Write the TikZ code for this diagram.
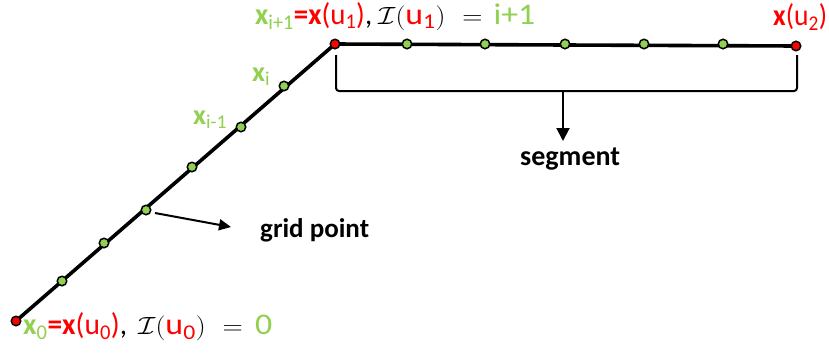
\documentclass[tikz,border=0pt]{standalone}
\usepackage{fontspec}
\usepackage{graphicx}
\setmainfont{Carlito}
\usetikzlibrary{arrows.meta,backgrounds}
\definecolor{lgreen}{HTML}{92D050}
\definecolor{pred}{HTML}{FF0000}
\newcommand\gx[1]{{\color{lgreen}\bfseries x}{\color{lgreen}\textsubscript{#1}}}
\newcommand\ru[1]{\mbox{\color{pred}u\textsubscript{#1}}}
\newcommand\wbox[2]{\resizebox{#1}{\height}{#2}}
\begin{document}
\begin{tikzpicture}[x=1pt,y=-1pt,
  dotbase/.style={circle,draw=black,line width=1.5pt,minimum size=9.5pt,inner sep=0pt},
  gdot/.style={dotbase,fill=lgreen},
  rdot/.style={dotbase,fill=pred},
  mainline/.style={line width=3.6pt,line join=round},
  thinline/.style={line width=2pt},
  lbl/.style={inner sep=0pt,anchor=base west,font=\fontsize{30}{34}\selectfont},
  slbl/.style={inner sep=0pt,anchor=base west,font=\fontsize{28}{32}\selectfont},
  blbl/.style={inner sep=0pt,anchor=base west,font=\fontsize{27}{30}\selectfont\bfseries}]
\useasboundingbox (0,0) rectangle (829,354);
% points
\node[rdot] (p0) at (16,321) {};
\node[gdot] (g1) at (62,281) {};
\node[gdot] (g2) at (104,243) {};
\node[gdot] (g3) at (146,210) {};
\node[gdot] (g4) at (192,167) {};
\node[gdot] (g5) at (241,127) {};
\node[gdot] (g6) at (284,86) {};
\node[rdot] (p1) at (335,44) {};
\node[gdot] (h1) at (407,44) {};
\node[gdot] (h2) at (485,44) {};
\node[gdot] (h3) at (565,44) {};
\node[gdot] (h4) at (644,44) {};
\node[gdot] (h5) at (723,44) {};
\node[rdot] (p2) at (796,46) {};
\begin{scope}[on background layer]
\fill[white] (0,0) rectangle (829,354);
\draw[mainline] (p0.center) -- (p1.center) -- (p2.center);
\end{scope}
% bracket
\coordinate (b1) at (336,55);
\coordinate (b2) at (336,91);
\coordinate (b3) at (797,91);
\coordinate (b4) at (797,55);
\coordinate (bm) at (563,91);
\draw[thinline,rounded corners=3pt] (b1) -- (b2) -- (b3) -- (b4);
% labels
\node[blbl,font=\fontsize{28}{30}\selectfont\bfseries] (seg) at (520,165) {segment};
\node[blbl] (grid) at (260,237) {grid point};
\draw[thinline,-{Triangle[width=13pt,length=13pt]}] (bm) -- (563,141) coordinate (segtip);
\coordinate (ga) at (155,213);
\coordinate (gb) at (231,227);
\draw[thinline,-{Triangle[width=11pt,length=12pt]}] (ga) -- (gb);
\node[slbl] (lxi) at (252,81) {\wbox{18pt}{\gx{i}}};
\node[slbl] (lxim) at (193,124) {\wbox{34pt}{\gx{i-1}}};
\node[lbl] (ltop) at (255,24) {\wbox{117pt}{\gx{i+1}{\color{pred}\bfseries =x}{\color{pred}(u\textsubscript{1})},}\hspace{6pt}\wbox{157pt}{$\mathcal{I}(\ru{1})\hspace{8pt} = \hspace{3pt}\mbox{\color{lgreen}i+1}$}};
\node[lbl] (lend) at (773,25) {\wbox{54pt}{{\color{pred}\bfseries x}{\color{pred}(u\textsubscript{2})}}};
\node[lbl] (lbot) at (23,334) {\wbox{104pt}{\gx{0}{\color{pred}\bfseries =x}{\color{pred}(u\textsubscript{0})},}\hspace{11pt}\wbox{134pt}{$\mathcal{I}(\ru{0})\hspace{8pt} = \hspace{4pt}\mbox{\color{lgreen}0}$}};
\end{tikzpicture}
\end{document}
